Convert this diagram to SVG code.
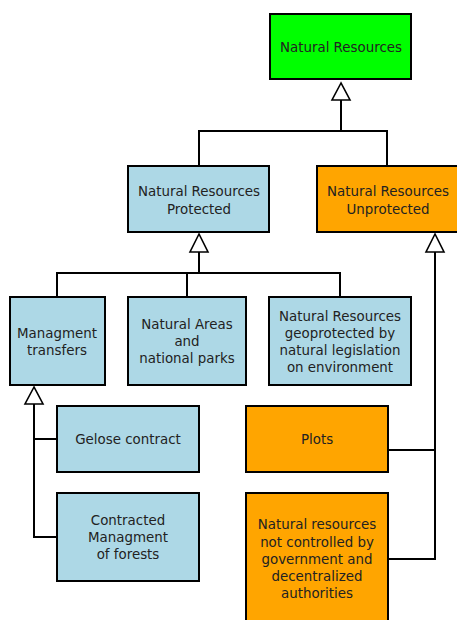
<svg xmlns="http://www.w3.org/2000/svg" width="457" height="620" viewBox="0 0 457 620">
  <style>
    .box { stroke: #000; stroke-width: 2; }
    .green { fill: #00ff00; }
    .blue { fill: #add8e6; }
    .orange { fill: #ffa500; }
    text { font-family: "DejaVu Sans", Verdana, sans-serif; font-size: 13.4px; fill: #222; text-anchor: middle; }
    .wire { fill: none; stroke: #000; stroke-width: 2; }
    .head { fill: #fff; stroke: #000; stroke-width: 1.6; stroke-linejoin: miter; }
  </style>
  <rect width="457" height="620" fill="#fff"/>

  <g id="connectors">
    <!-- Natural Resources generalization -->
    <path class="wire" d="M199,166 V131 H387 V166 M341,131 V99"/>
    <polygon class="head" points="341,83 332,100 350,100"/>
    <!-- Protected generalization -->
    <path class="wire" d="M57,297 V273 H340 V297 M187,273 V297 M199,273 V252"/>
    <polygon class="head" points="199,234 190,252 208,252"/>
    <!-- Managment transfers generalization -->
    <path class="wire" d="M57,439 H34 V537 H57 M34,439 V403"/>
    <polygon class="head" points="34,387 25,404 43,404"/>
    <!-- Unprotected generalization -->
    <path class="wire" d="M388,450 H435 V559 H388 M435,450 V252"/>
    <polygon class="head" points="435,234 426,252 444,252"/>
  </g>

  <g id="natural-resources">
    <rect class="box green" x="270" y="14" width="141" height="65"/>
    <text x="341" y="52">Natural Resources</text>
  </g>

  <g id="protected">
    <rect class="box blue" x="128" y="166" width="141" height="66"/>
    <text x="199" y="196">Natural Resources</text>
    <text x="199" y="214">Protected</text>
  </g>

  <g id="unprotected">
    <rect class="box orange" x="317" y="166" width="143" height="66"/>
    <text x="388" y="196">Natural Resources</text>
    <text x="388" y="214">Unprotected</text>
  </g>

  <g id="managment-transfers">
    <rect class="box blue" x="10" y="297" width="95" height="88"/>
    <text x="57" y="338">Managment</text>
    <text x="57" y="355">transfers</text>
  </g>

  <g id="natural-areas">
    <rect class="box blue" x="128" y="297" width="118" height="88"/>
    <text x="187" y="329">Natural Areas</text>
    <text x="187" y="346">and</text>
    <text x="187" y="363">national parks</text>
  </g>

  <g id="geoprotected">
    <rect class="box blue" x="269" y="297" width="142" height="88"/>
    <text x="340" y="321">Natural Resources</text>
    <text x="340" y="338">geoprotected by</text>
    <text x="340" y="355">natural legislation</text>
    <text x="340" y="372">on environment</text>
  </g>

  <g id="gelose-contract">
    <rect class="box blue" x="57" y="406" width="142" height="66"/>
    <text x="128" y="444">Gelose contract</text>
  </g>

  <g id="contracted-managment">
    <rect class="box blue" x="57" y="493" width="142" height="88"/>
    <text x="128" y="525">Contracted</text>
    <text x="128" y="542">Managment</text>
    <text x="128" y="559">of forests</text>
  </g>

  <g id="plots">
    <rect class="box orange" x="246" y="406" width="142" height="66"/>
    <text x="317" y="444">Plots</text>
  </g>

  <g id="not-controlled">
    <rect class="box orange" x="246" y="493" width="142" height="140"/>
    <text x="317" y="529">Natural resources</text>
    <text x="317" y="547">not controlled by</text>
    <text x="317" y="564">government and</text>
    <text x="317" y="581">decentralized</text>
    <text x="317" y="598">authorities</text>
  </g>
</svg>
